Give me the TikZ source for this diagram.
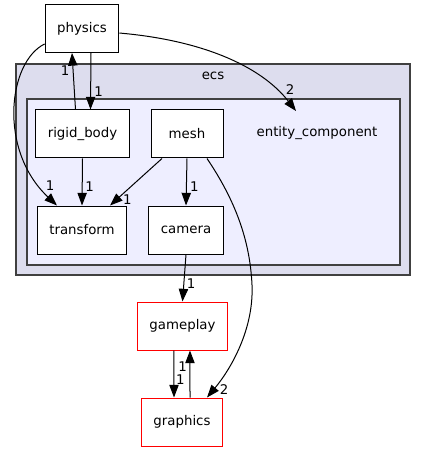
\documentclass[tikz,border=0pt]{standalone}
\usepackage{fontspec}
\setmainfont{DejaVu Sans}
\usetikzlibrary{arrows.meta,positioning}
\definecolor{ecsfill}{HTML}{DDDDEE}
\definecolor{ecfill}{HTML}{EEEEFF}
\definecolor{clusterline}{HTML}{404040}

\begin{document}
\begin{tikzpicture}[x=0.75pt,y=-0.75pt,>={Triangle[length=9.5pt,width=7pt]},line width=0.75pt]
\tikzstyle{box}=[draw, fill=white, align=center, inner xsep=9pt, minimum width=54pt, minimum height=36pt]
\tikzstyle{extbox}=[box, draw=red]
\tikzstyle{cluster}=[draw=clusterline, line width=1pt]
\tikzstyle{lbl}=[inner sep=1pt]
\useasboundingbox (0,0) rectangle (427,452);
% clusters
\draw[cluster, fill=ecsfill] (16,64) rectangle (410,275);
\draw[cluster, fill=ecfill] (27,99) rectangle (400,265);
\node (ecs) at (213,76) {ecs};
\node (ec) at (317,133) {entity\_component};
\coordinate (ecdep) at (296,111);
% directories
\node[box] (physics) at (82,28.5) {physics};
\node[box] (rigid_body) at (82.5,134) {rigid\_body};
\node[box] (mesh) at (187,134) {mesh};
\node[box] (transform) at (82,230) {transform};
\node[box] (camera) at (186,230) {camera};
\node[extbox] (gameplay) at (182.5,326) {gameplay};
\node[extbox] (graphics) at (182,422) {graphics};
% dependencies
\draw[->] ([xshift=6.75pt]physics.south) -- node[lbl, pos=.69, right=1.5pt]{1} ([xshift=6pt]rigid_body.north);
\draw[->] ([xshift=-5.25pt]rigid_body.north) -- node[lbl, pos=.69, left=1.5pt]{1} ([xshift=-7.5pt]physics.south);
\draw[->] ([yshift=-11.6pt]physics.west) .. controls (8,62) and (-2,150) .. ([xshift=-18.75pt]transform.north) node[lbl, xshift=-5.25pt, yshift=15pt]{1};
\draw[->] ([yshift=-3.4pt]physics.east) .. controls (200,40) and (260,65) .. (ecdep) node[lbl, xshift=-4.5pt, yshift=15.75pt]{2};
\draw[->] (rigid_body.south) -- node[lbl, pos=.6, right=1pt]{1} (transform.north);
\draw[->] ([xshift=-18.75pt]mesh.south) -- node[lbl, pos=.875, right=3.5pt]{1} ([xshift=21pt]transform.north);
\draw[->] (mesh.south) -- node[lbl, pos=.6, right=1.5pt]{1} (camera.north);
\draw[->] ([xshift=15pt]mesh.south) .. controls (235,200) and (250,240) .. (252,285) .. controls (254,330) and (230,370) .. ([xshift=18.75pt]graphics.north) node[lbl, xshift=12.75pt, yshift=6pt]{2};
\draw[->] (camera.south) -- node[lbl, pos=.625, right=1pt]{1} (gameplay.north);
\draw[->] ([xshift=-6.4pt]gameplay.south) -- node[lbl, pos=.63, right=0.3pt]{1} ([xshift=-6pt]graphics.north);
\draw[->] ([xshift=6pt]graphics.north) -- node[lbl, pos=.66, left=1pt]{1} ([xshift=5.6pt]gameplay.south);
\end{tikzpicture}
\end{document}
